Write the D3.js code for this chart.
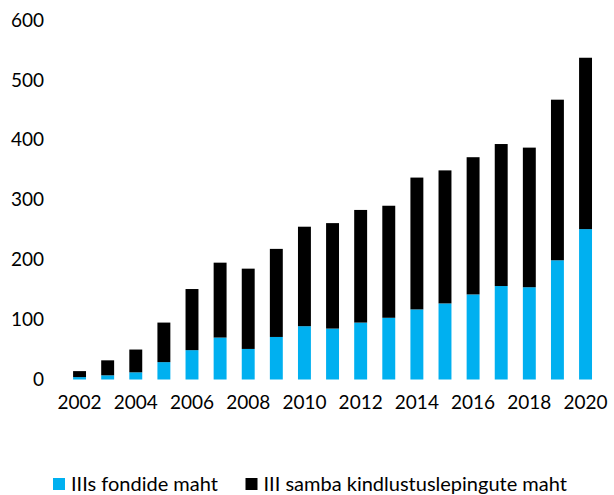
<!DOCTYPE html>
<html>
<head>
<meta charset="utf-8">
<script src="https://cdn.jsdelivr.net/npm/d3@7"></script>
<style>
  html, body { margin: 0; padding: 0; background: #fff; }
  svg text { font-family: Lato, "Open Sans", sans-serif; fill: #000; }
</style>
</head>
<body>
<svg id="chart" width="614" height="495"></svg>
<script>
// Years on the category axis
const years = ["2002","2003","2004","2005","2006","2007","2008","2009","2010","2011",
               "2012","2013","2014","2015","2016","2017","2018","2019","2020"];
// Pillar III fund volume
const fundValues = [4, 7, 12, 29, 49, 70, 51, 71, 89, 85, 95, 103, 117, 127, 142, 156, 154, 199, 251];
// Pillar III insurance contract volume (stacked on top of funds)
const insuranceValues = [10, 25, 38, 66, 102, 125, 134, 147, 166, 176, 188, 187, 220, 222, 229, 237, 233, 268, 286];
// Labels and ticks
const yTicks = [0, 100, 200, 300, 400, 500, 600];
const xTickLabels = ["2002","2004","2006","2008","2010","2012","2014","2016","2018","2020"];
const seriesNames = ["IIIs fondide maht", "III samba kindlustuslepingute maht"];
const seriesColors = ["#00B0F0", "#000000"];

const svg = d3.select("#chart");

const rows = years.map((y, i) => ({ year: y, fund: fundValues[i], insurance: insuranceValues[i] }));
const stack = d3.stack().keys(["fund", "insurance"]);
const layers = stack(rows);

const x = d3.scaleBand()
  .domain(years)
  .range([65.5, 599.6])
  .paddingInner(0.54)
  .paddingOuter(0.27);

const y = d3.scaleLinear()
  .domain([0, 600])
  .range([379.5, 20]);

// Stacked bars
svg.append("g")
  .selectAll("g")
  .data(layers)
  .join("g")
  .attr("fill", (d, i) => seriesColors[i])
  .selectAll("rect")
  .data(d => d)
  .join("rect")
  .attr("x", d => x(d.data.year))
  .attr("width", x.bandwidth())
  .attr("y", d => y(d[1]))
  .attr("height", d => y(d[0]) - y(d[1]));

// Value axis (labels only)
const yAxis = d3.axisLeft(y).tickValues(yTicks).tickSize(0).tickPadding(0);
const gy = svg.append("g")
  .attr("transform", "translate(44,0)")
  .call(yAxis);
gy.select(".domain").remove();
gy.selectAll("text")
  .style("font-family", "Lato, 'Open Sans', sans-serif")
  .style("font-size", "19px")
  .attr("fill", "#000");

// Year axis (every second year)
const xAxis = d3.axisBottom(x).tickValues(xTickLabels).tickSize(0).tickPadding(0);
const gx = svg.append("g")
  .attr("transform", "translate(0,395)")
  .call(xAxis);
gx.select(".domain").remove();
gx.selectAll("text")
  .style("font-family", "Lato, 'Open Sans', sans-serif")
  .style("font-size", "19px")
  .attr("fill", "#000");

// Legend
const legendItems = [
  { name: seriesNames[0], color: seriesColors[0], x: 53 },
  { name: seriesNames[1], color: seriesColors[1], x: 245.5 }
];
const legend = svg.append("g");
legendItems.forEach(item => {
  legend.append("rect")
    .attr("x", item.x)
    .attr("y", 478)
    .attr("width", 12)
    .attr("height", 12)
    .attr("fill", item.color);
  legend.append("text")
    .attr("x", item.x + 18)
    .attr("y", 484)
    .attr("dy", "0.35em")
    .style("font-size", "20px")
    .text(item.name);
});
</script>
</body>
</html>
